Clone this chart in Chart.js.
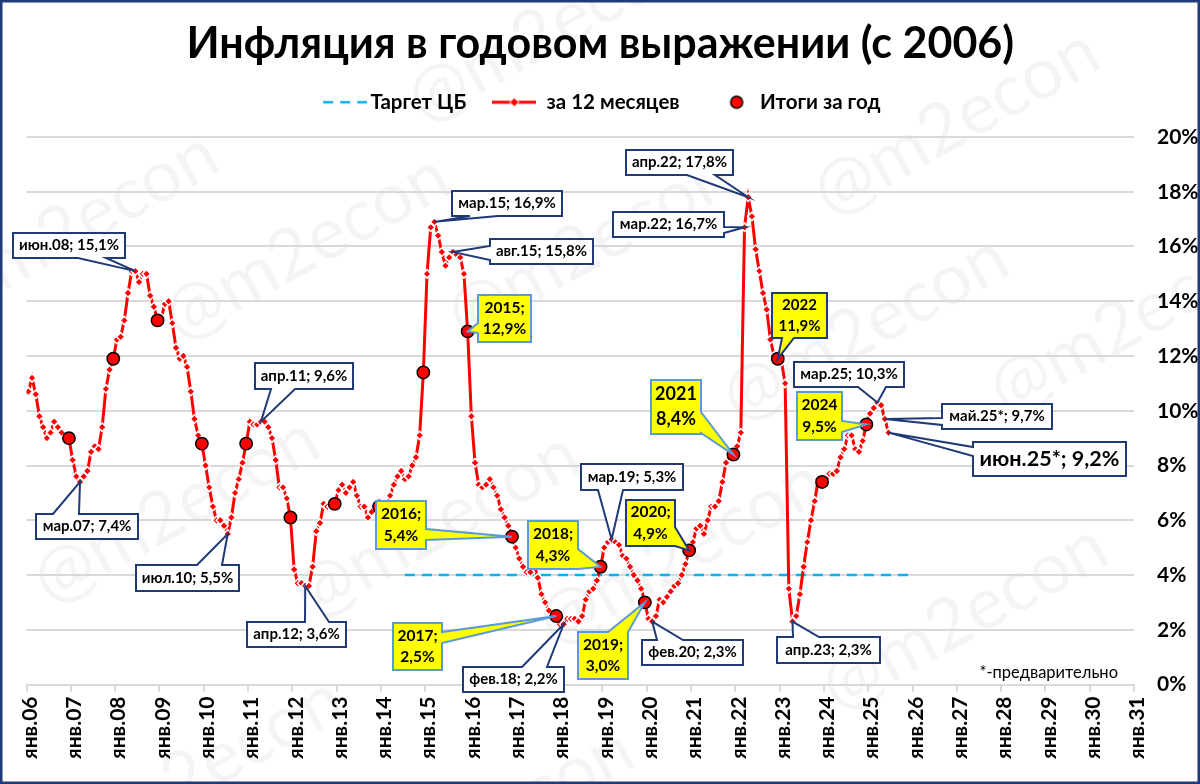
<!DOCTYPE html>
<html lang="ru">
<head>
<meta charset="utf-8">
<title>Инфляция в годовом выражении</title>
<script src="https://cdn.jsdelivr.net/npm/chart.js@4"></script>
<style>
  html, body { margin: 0; padding: 0; background: #fff; }
  canvas { display: block; }
</style>
</head>
<body>
<canvas id="chart" width="1200" height="784"></canvas>
<script>
const FONT = 'Lato, "Open Sans", sans-serif';

// y/y inflation by month, one row per year from 2006, last row runs to June 2025
const inflation = [
  10.7, 11.2, 10.6, 9.8, 9.4, 9.0, 9.2, 9.6, 9.4, 9.2, 9.0, 9.0,
  8.2, 7.6, 7.4, 7.6, 7.8, 8.5, 8.7, 8.6, 9.4, 10.8, 11.5, 11.9,
  12.6, 12.7, 13.3, 14.3, 15.1, 15.1, 14.7, 15.0, 15.0, 14.2, 13.8, 13.3,
  13.4, 13.9, 14.0, 13.2, 12.3, 11.9, 12.0, 11.6, 10.7, 9.7, 9.1, 8.8,
  8.0, 7.2, 6.5, 6.0, 6.0, 5.8, 5.5, 6.1, 7.0, 7.5, 8.1, 8.8,
  9.6, 9.5, 9.5, 9.6, 9.6, 9.4, 9.0, 8.2, 7.2, 7.2, 6.8, 6.1,
  4.2, 3.7, 3.7, 3.6, 3.6, 4.3, 5.6, 5.9, 6.6, 6.5, 6.5, 6.6,
  7.1, 7.3, 7.0, 7.2, 7.4, 6.9, 6.5, 6.5, 6.1, 6.3, 6.5, 6.5,
  6.1, 6.2, 6.9, 7.3, 7.6, 7.8, 7.5, 7.6, 8.0, 8.3, 9.1, 11.4,
  15.0, 16.7, 16.9, 16.4, 15.8, 15.3, 15.6, 15.8, 15.7, 15.6, 15.0, 12.9,
  9.8, 8.1, 7.3, 7.2, 7.3, 7.5, 7.2, 6.9, 6.4, 6.1, 5.8, 5.4,
  5.0, 4.6, 4.3, 4.1, 4.1, 4.4, 3.9, 3.3, 3.0, 2.7, 2.5, 2.5,
  2.2, 2.2, 2.4, 2.4, 2.4, 2.3, 2.5, 3.1, 3.4, 3.5, 3.8, 4.3,
  5.0, 5.2, 5.3, 5.2, 5.1, 4.7, 4.6, 4.3, 4.0, 3.8, 3.5, 3.0,
  2.4, 2.3, 2.5, 3.1, 3.0, 3.2, 3.4, 3.6, 3.7, 4.0, 4.4, 4.9,
  5.2, 5.7, 5.8, 5.5, 6.0, 6.5, 6.5, 6.7, 7.4, 8.1, 8.4, 8.4,
  8.7, 9.2, 16.7, 17.8, 17.1, 15.9, 15.1, 14.3, 13.7, 12.6, 12.0, 11.9,
  11.8, 11.0, 3.5, 2.3, 2.5, 3.3, 4.3, 5.2, 6.0, 6.7, 7.5, 7.4,
  7.4, 7.7, 7.7, 7.8, 8.3, 8.6, 9.1, 9.1, 8.6, 8.5, 8.9, 9.5,
  9.9, 10.1, 10.3, 10.2, 9.7, 9.2
];
// year totals, 2006 to 2024
const annualTotals = [9.0, 11.9, 13.3, 8.8, 8.8, 6.1, 6.6, 6.5, 11.4, 12.9, 5.4, 2.5, 4.3, 3.0, 4.9, 8.4, 11.9, 7.4, 9.5];
const targetLevel = 4;
const targetFirstMonth = 102;
const targetLastMonth = 239;
const axisMonths = 300;
const yTickStep = 2;
const yMax = 20;
const seriesNames = ['Таргет ЦБ', 'за 12 месяцев', 'Итоги за год'];

const RED = '#ff0000';
const NAVY = '#1f3a76';
const BLUE = '#5b9bd5';

const monthOf = (yy, m) => (yy - 6) * 12 + m - 1;

// text, month, box [x0, y0, x1, y1], wedge base [edge, from, to]
const callouts = [
  { text: ['июн.08; 15,1%'], at: monthOf(8, 6), box: [13, 233, 125, 258], wedge: ['b', 78, 106] },
  { text: ['мар.07; 7,4%'], at: monthOf(7, 3), box: [36, 514, 138, 539], wedge: ['t', 53, 79] },
  { text: ['апр.11; 9,6%'], at: monthOf(11, 4), box: [255, 363, 353, 389], wedge: ['b', 271, 295] },
  { text: ['июл.10; 5,5%'], at: monthOf(10, 7), box: [136, 565, 239, 591], wedge: ['t', 197, 222] },
  { text: ['апр.12; 3,6%'], at: monthOf(12, 4), box: [247, 622, 346, 647], wedge: ['t', 305, 329] },
  { text: ['мар.15; 16,9%'], at: monthOf(15, 3), box: [452, 191, 562, 216], wedge: ['b', 470, 498] },
  { text: ['авг.15; 15,8%'], at: monthOf(15, 8), box: [490, 239, 593, 264], wedge: ['l', 246, 260] },
  { text: ['мар.22; 16,7%'], at: monthOf(22, 3), box: [613, 212, 724, 237], wedge: ['r', 227, 233] },
  { text: ['апр.22; 17,8%'], at: monthOf(22, 4), box: [626, 150, 733, 175], wedge: ['b', 687, 715] },
  { text: ['мар.25; 10,3%'], at: monthOf(25, 3), box: [794, 362, 904, 387], wedge: ['b', 858, 886] },
  { text: ['май.25*; 9,7%'], at: monthOf(25, 5), box: [942, 404, 1052, 429], wedge: ['l', 418, 425] },
  { text: ['июн.25*; 9,2%'], at: monthOf(25, 6), box: [973, 442, 1126, 476], wedge: ['l', 447, 456], size: 21.5 },
  { text: ['апр.23; 2,3%'], at: monthOf(23, 4), box: [777, 637, 880, 663], wedge: ['t', 793, 819] },
  { text: ['фев.18; 2,2%'], at: monthOf(18, 2), box: [463, 667, 564, 692], wedge: ['t', 522, 547] },
  { text: ['мар.19; 5,3%'], at: monthOf(19, 3), box: [581, 464, 683, 490], wedge: ['b', 598, 623] },
  { text: ['фев.20; 2,3%'], at: monthOf(20, 2), box: [642, 640, 743, 665], wedge: ['t', 657, 683] },
  { text: ['2015;', '12,9%'], at: monthOf(15, 12), box: [478, 295, 531, 342], wedge: ['l', 323, 333], fill: 'y', size: 15.5 },
  { text: ['2016;', '5,4%'], at: monthOf(16, 12), box: [376, 501, 426, 549], wedge: ['r', 529, 540], fill: 'y', size: 15.5 },
  { text: ['2017;', '2,5%'], at: monthOf(17, 12), box: [393, 623, 442, 670], wedge: ['r', 632, 643], fill: 'y', size: 15.5 },
  { text: ['2018;', '4,3%'], at: monthOf(18, 12), box: [528, 521, 578, 569], wedge: ['r', 549, 569], fill: 'y', size: 15.5 },
  { text: ['2019;', '3,0%'], at: monthOf(19, 12), box: [578, 632, 628, 679], wedge: ['t', 608, 628], fill: 'y', size: 15.5 },
  { text: ['2020;', '4,9%'], at: monthOf(20, 12), box: [626, 500, 675, 546], wedge: ['r', 527, 546], fill: 'y', size: 15.5, edge: NAVY },
  { text: ['2021', '8,4%'], at: monthOf(21, 12), box: [651, 380, 701, 434], wedge: ['r', 412, 433], fill: 'y', size: 18 },
  { text: ['2022', '11,9%'], at: monthOf(22, 12), box: [772, 293, 827, 338], wedge: ['b', 782, 794], fill: 'y', size: 15, edge: NAVY },
  { text: ['2024', '9,5%'], at: monthOf(24, 12), box: [797, 392, 842, 440], wedge: ['r', 421, 432], fill: 'y', size: 15.5 }
];

// watermark centres
const watermarks = [
  [75, 225], [306, 247], [550, 29], [590, 245], [956, 122], [1132, 320],
  [865, 328], [964, 617], [176, 510], [436, 525], [681, 552], [200, 770], [490, 820]
];

const monthlyPoints = inflation.map((v, i) => ({ x: i + 0.5, y: v }));
const annualPoints = annualTotals.map((v, i) => ({ x: i * 12 + 11.5, y: v }));
const targetPoints = [targetFirstMonth, targetLastMonth].map(m => ({ x: m + 0.5, y: targetLevel }));

// legend glyphs are centred in a 44px box, off moves the drawing right of that centre
const legendGlyph = (kind, off) => {
  const c = document.createElement('canvas');
  c.width = 44 + off * 2; c.height = 16;
  const g = c.getContext('2d');
  g.translate(off * 2, 0);
  if (kind === 'target') {
    g.strokeStyle = '#00b0f0'; g.lineWidth = 2.5; g.setLineDash([10, 7]);
    g.beginPath(); g.moveTo(0, 8); g.lineTo(44, 8); g.stroke();
  } else if (kind === 'monthly') {
    g.strokeStyle = RED; g.lineWidth = 3;
    g.beginPath(); g.moveTo(0, 8); g.lineTo(44, 8); g.stroke();
    g.fillStyle = RED; g.strokeStyle = '#fff'; g.lineWidth = 1;
    g.beginPath(); g.moveTo(22, 3.5); g.lineTo(26.5, 8); g.lineTo(22, 12.5); g.lineTo(17.5, 8); g.closePath();
    g.fill(); g.stroke();
  } else {
    g.fillStyle = RED; g.strokeStyle = '#000'; g.lineWidth = 1.5;
    g.beginPath(); g.arc(22, 8, 6, 0, Math.PI * 2); g.fill(); g.stroke();
  }
  return c;
};
const legendGlyphs = [legendGlyph('target', 7), legendGlyph('monthly', 0), legendGlyph('annual', 9)];

const traceCallout = (ctx, c, tx, ty) => {
  const [x0, y0, x1, y1] = c.box;
  const [edge, a, b] = c.wedge;
  ctx.beginPath();
  ctx.moveTo(x0, y0);
  if (edge === 't') { ctx.lineTo(a, y0); ctx.lineTo(tx, ty); ctx.lineTo(b, y0); }
  ctx.lineTo(x1, y0);
  if (edge === 'r') { ctx.lineTo(x1, a); ctx.lineTo(tx, ty); ctx.lineTo(x1, b); }
  ctx.lineTo(x1, y1);
  if (edge === 'b') { ctx.lineTo(b, y1); ctx.lineTo(tx, ty); ctx.lineTo(a, y1); }
  ctx.lineTo(x0, y1);
  if (edge === 'l') { ctx.lineTo(x0, b); ctx.lineTo(tx, ty); ctx.lineTo(x0, a); }
  ctx.closePath();
};

const decorPlugin = {
  id: 'decor',
  beforeLayout(chart) {
    // room under the legend down to the top gridline
    const legend = chart.legend;
    const fit = Object.getPrototypeOf(legend).fit;
    legend.fit = function () { fit.call(this); this.height = 71; };
  },
  afterLayout(chart) {
    // title and legend are centred on the page, not on the plot
    chart.titleBlock.left -= 13;
    chart.titleBlock.right -= 13;
    chart.legend.left -= 15;
    chart.legend.right -= 15;
  },
  beforeDraw(chart) {
    const { ctx, width, height } = chart;
    ctx.save();
    ctx.fillStyle = '#fff';
    ctx.fillRect(0, 0, width, height);
    ctx.font = `72px ${FONT}`;
    ctx.fillStyle = 'rgba(0,0,0,0.045)';
    ctx.textAlign = 'center';
    ctx.textBaseline = 'middle';
    for (const [x, y] of watermarks) {
      ctx.save();
      ctx.translate(x, y);
      ctx.rotate(-29 * Math.PI / 180);
      ctx.fillText('@m2econ', 0, 0);
      ctx.restore();
    }
    ctx.restore();
  },
  afterDatasetsDraw(chart) {
    const { ctx, width, height, scales } = chart;
    ctx.save();
    for (const c of callouts) {
      const tx = scales.x.getPixelForValue(c.at + 0.5);
      const ty = scales.y.getPixelForValue(inflation[c.at]);
      traceCallout(ctx, c, tx, ty);
      ctx.fillStyle = c.fill === 'y' ? '#ffff00' : '#fff';
      ctx.fill();
      ctx.lineWidth = 2;
      ctx.lineJoin = 'miter';
      ctx.strokeStyle = c.edge || (c.fill === 'y' ? BLUE : NAVY);
      ctx.stroke();
      const size = c.size || 15;
      ctx.fillStyle = '#000';
      ctx.font = `bold ${size}px ${FONT}`;
      ctx.textAlign = 'center';
      ctx.textBaseline = 'middle';
      const cx = (c.box[0] + c.box[2]) / 2;
      const cy = (c.box[1] + c.box[3]) / 2;
      const step = size * 1.38;
      c.text.forEach((line, i) => ctx.fillText(line, cx, cy + (i - (c.text.length - 1) / 2) * step));
    }
    ctx.font = `16.5px ${FONT}`;
    ctx.fillStyle = '#000';
    ctx.textAlign = 'right';
    ctx.textBaseline = 'middle';
    ctx.fillText('*-предварительно', 1118, 673);
    ctx.strokeStyle = NAVY;
    ctx.lineWidth = 3;
    ctx.strokeRect(1, 1, width - 2, height - 2);
    ctx.restore();
  }
};

new Chart(document.getElementById('chart'), {
  type: 'line',
  data: {
    datasets: [
      { label: seriesNames[0], data: targetPoints, order: 3, borderColor: '#00b0f0', borderWidth: 2.5, borderDash: [10, 7], pointRadius: 0 },
      { label: seriesNames[1], data: monthlyPoints, order: 2, borderColor: RED, borderWidth: 3, pointStyle: 'rectRot', pointRadius: 4.2, pointBackgroundColor: RED, pointBorderColor: '#fff', pointBorderWidth: 1.5 },
      { label: seriesNames[2], data: annualPoints, order: 1, showLine: false, pointStyle: 'circle', pointRadius: 6.2, pointBackgroundColor: RED, pointBorderColor: '#000', pointBorderWidth: 1.5 }
    ]
  },
  options: {
    responsive: false,
    animation: false,
    devicePixelRatio: 1,
    layout: { padding: { left: 26.5, right: 0, top: 0, bottom: 0 } },
    plugins: {
      tooltip: { enabled: false },
      title: {
        display: true,
        text: 'Инфляция в годовом выражении (с 2006)',
        color: '#000',
        font: { family: FONT, size: 43, weight: 'bold', lineHeight: 1 },
        padding: { top: 23, bottom: 0 }
      },
      legend: {
        position: 'top',
        labels: {
          usePointStyle: true,
          pointStyleWidth: 44,
          padding: 26,
          color: '#000',
          font: { family: FONT, size: 20.5, weight: 'bold' },
          generateLabels: chart => chart.data.datasets.map((d, i) => ({
            text: d.label, datasetIndex: i, pointStyle: legendGlyphs[i], fontColor: '#000', lineWidth: 0, strokeStyle: 'transparent', fillStyle: 'transparent'
          }))
        }
      }
    },
    scales: {
      x: {
        type: 'linear',
        min: 0,
        max: axisMonths,
        afterFit: s => { s.height = 99.5; },
        border: { display: true, color: '#d9d9d9', width: 2 },
        grid: { drawOnChartArea: false, drawTicks: true, tickLength: 7, color: '#d9d9d9', lineWidth: 2 },
        ticks: {
          stepSize: 12,
          autoSkip: false,
          minRotation: 90,
          maxRotation: 90,
          labelOffset: 3.5,
          padding: 5,
          color: '#000',
          font: { family: FONT, size: 21, weight: 'bold' },
          callback: v => `янв.${String(v / 12 + 6).padStart(2, '0')}`
        }
      },
      y: {
        position: 'right',
        min: 0,
        max: yMax,
        afterFit: s => { s.width = 66; },
        border: { display: false },
        grid: { drawTicks: false, color: '#d9d9d9', lineWidth: 2 },
        ticks: {
          stepSize: yTickStep,
          padding: 23,
          color: '#000',
          font: { family: FONT, size: 21, weight: 'bold' },
          callback: v => `${v}%`
        }
      }
    }
  },
  plugins: [decorPlugin]
});
</script>
</body>
</html>
